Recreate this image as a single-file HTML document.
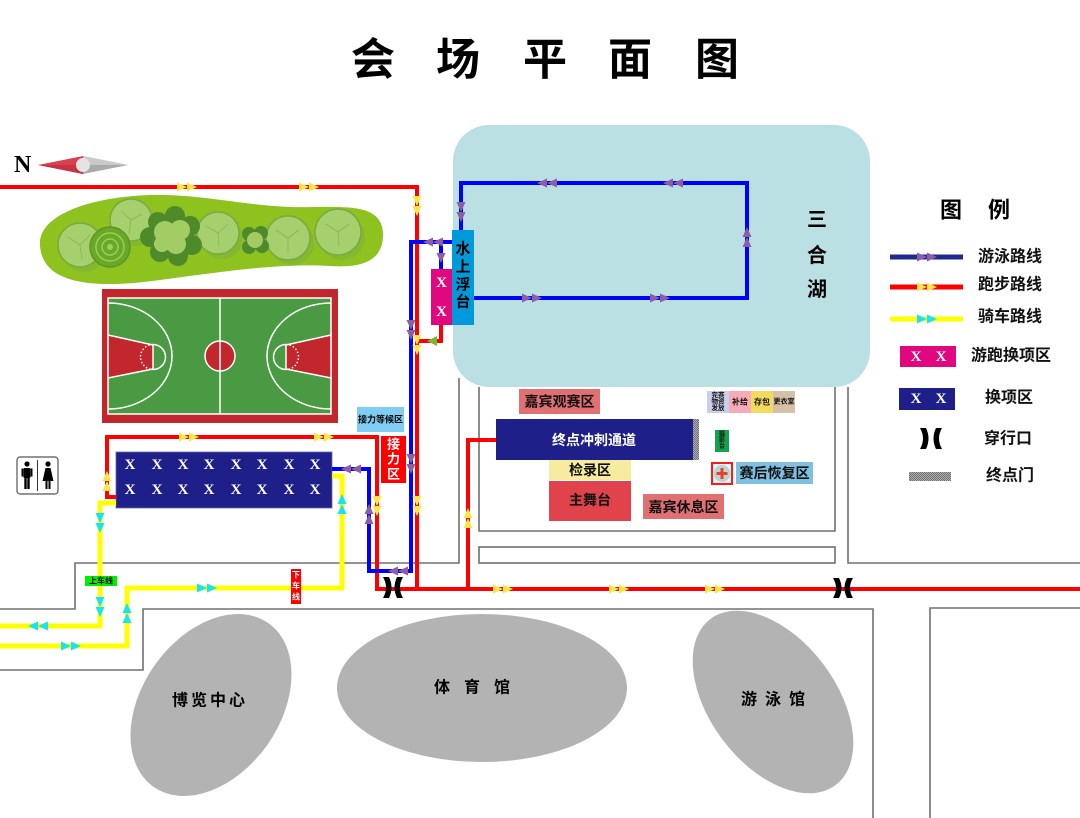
<!DOCTYPE html>
<html><head><meta charset="utf-8"><style>
html,body{margin:0;padding:0;background:#fff;}
svg{display:block;}
text{font-family:"Liberation Sans","Noto Sans CJK SC","WenQuanYi Zen Hei",sans-serif;font-weight:bold;}
.s{font-family:"Liberation Serif","Noto Serif CJK SC",serif;font-weight:bold;}
</style></head><body>
<svg width="1080" height="818" viewBox="0 0 1080 818" xmlns="http://www.w3.org/2000/svg">
<defs>
<g id="dbl"><polygon points="-11,-4.5 -1,0 -11,4.5"/><polygon points="-1,-4.5 9,0 -1,4.5"/></g>
<g id="sgl"><polygon points="-5,-4.5 5,0 -5,4.5"/></g>
<pattern id="chk" width="2" height="2" patternUnits="userSpaceOnUse"><rect width="2" height="2" fill="#b0b0b0"/><rect width="1" height="1" fill="#707070"/><rect x="1" y="1" width="1" height="1" fill="#707070"/></pattern>
</defs>

<!-- Title -->
<g font-size="44" font-weight="900" fill="#000" text-anchor="middle" dominant-baseline="central">
<text x="373" y="60">会</text><text x="458" y="60">场</text><text x="545" y="60">平</text><text x="630" y="60">面</text><text x="717" y="60">图</text>
</g>

<!-- Compass -->
<text class="s" x="14" y="172" font-size="24" fill="#000">N</text>
<polygon points="38,165 83,156 83,174" fill="#d8414f"/>
<polygon points="38,165 83,165 83,174" fill="#c43444"/>
<polygon points="83,156 128,165 83,174" fill="#a9a9a9"/>
<polygon points="83,156 128,165 83,165" fill="#c9c9c9"/>
<circle cx="83" cy="165" r="7" fill="#e4e4e4"/>

<!-- Lake -->
<rect x="453" y="125" width="417" height="262" rx="36" fill="#bbe0e3"/>
<g font-size="20" fill="#000" text-anchor="middle" dominant-baseline="central">
<text x="817" y="220">三</text><text x="817" y="256">合</text><text x="817" y="290">湖</text>
</g>

<!-- Gray road lines -->
<g stroke="#707070" stroke-width="1.6" fill="none">
<polyline points="0,609 75,609 75,563 459,563 459,378"/>
<polyline points="479,387 479,531 835,531 835,387"/>
<rect x="479" y="547" width="356" height="16"/>
<polyline points="848,387 848,563 1080,563"/>
<polyline points="0,670 143,670 143,609 873,609 873,818"/>
<polyline points="930,818 930,608 1080,608"/>
</g>

<!-- Trees area -->
<path d="M40,245 C38,215 90,197 150,195 C200,194 240,205 290,207 C340,208 383,200 383,235 C383,262 360,268 330,266 C280,263 220,272 160,280 C110,287 42,290 40,245 Z" fill="#8dc21f"/>
<g fill="#7fb23a" opacity="0.6">
<circle cx="84" cy="250" r="22"/><circle cx="135" cy="225" r="21"/><circle cx="222" cy="238" r="21"/><circle cx="292" cy="243" r="22"/><circle cx="342" cy="237" r="23"/>
</g>
<g stroke="#7aa944" stroke-width="1.5">
<circle cx="80" cy="245" r="22" fill="#a6d06d"/>
<circle cx="131" cy="220" r="21" fill="#a6d06d"/>
<circle cx="218" cy="233" r="21" fill="#a6d06d"/>
<circle cx="288" cy="238" r="22" fill="#a6d06d"/>
<circle cx="338" cy="232" r="23" fill="#a6d06d"/>
</g>
<g stroke="#86b553" stroke-width="0.8" fill="none">
<path d="M80,245 l-12,-8 M80,245 l10,-10 M80,245 l2,14 M131,220 l-10,-9 M131,220 l11,-6 M131,220 l-2,13 M218,233 l-12,-7 M218,233 l10,-9 M218,233 l1,13 M288,238 l-12,-8 M288,238 l11,-8 M288,238 l0,14 M338,232 l-12,-8 M338,232 l11,-8 M338,232 l1,14"/>
</g>
<circle cx="110" cy="247" r="20" fill="#6aa82a" stroke="#5d9524" stroke-width="1.5"/>
<circle cx="110" cy="247" r="14" fill="none" stroke="#9bd052" stroke-width="1.5"/>
<circle cx="110" cy="247" r="8" fill="none" stroke="#9bd052" stroke-width="1.5"/>
<circle cx="110" cy="247" r="3" fill="#9bd052"/>
<!-- bush 1 -->
<g fill="#4f8a2a">
<circle cx="158" cy="222" r="10"/><circle cx="175" cy="216" r="10"/><circle cx="190" cy="226" r="10"/><circle cx="192" cy="245" r="10"/><circle cx="178" cy="256" r="10"/><circle cx="160" cy="252" r="10"/><circle cx="150" cy="237" r="10"/>
</g>
<g fill="#a3cd64">
<circle cx="165" cy="232" r="11"/><circle cx="180" cy="230" r="10"/><circle cx="176" cy="244" r="10"/><circle cx="162" cy="244" r="8"/>
</g>
<!-- bush 2 -->
<g fill="#4f8a2a">
<circle cx="249" cy="234" r="7"/><circle cx="261" cy="233" r="7"/><circle cx="262" cy="246" r="7"/><circle cx="249" cy="247" r="7"/>
</g>
<g fill="#a3cd64"><circle cx="255" cy="240" r="8"/></g>

<!-- Basketball court -->
<rect x="102" y="289" width="236" height="134" fill="#c1272d"/>
<rect x="108" y="298" width="223" height="116" fill="#4a9a44" stroke="#fff" stroke-width="1.5"/>
<g stroke="#fff" stroke-width="1.5">
<line x1="220" y1="298" x2="220" y2="414"/>
<circle cx="220" cy="356" r="15" fill="#c1272d"/>
<line x1="220" y1="341" x2="220" y2="371"/>
<polygon points="108,335 153,345 153,369 108,378" fill="#c1272d"/>
<polygon points="331,335 286,345 286,369 331,378" fill="#c1272d"/>
<path d="M153,344.5 A12.5,12.5 0 0 1 153,369.5" fill="none"/>
<path d="M286,344.5 A12.5,12.5 0 0 0 286,369.5" fill="none"/>
<path d="M153,344.5 A12.5,12.5 0 0 0 153,369.5" fill="none" stroke-dasharray="1.5,2"/>
<path d="M286,344.5 A12.5,12.5 0 0 1 286,369.5" fill="none" stroke-dasharray="1.5,2"/>
<path d="M108,303 A64,53 0 0 1 108,409" fill="none"/>
<path d="M331,303 A64,53 0 0 0 331,409" fill="none"/>
</g>

<!-- Toilet icon -->
<rect x="17" y="457" width="41" height="37" rx="3" fill="#fff" stroke="#555" stroke-width="1.2"/>
<line x1="37.5" y1="460" x2="37.5" y2="491" stroke="#333" stroke-width="1"/>
<g fill="#000">
<circle cx="27" cy="464" r="2.6"/>
<rect x="23.5" y="468" width="7" height="10" rx="1"/>
<rect x="24.3" y="477" width="2.4" height="12"/><rect x="27.3" y="477" width="2.4" height="12"/>
<rect x="21.5" y="468.5" width="1.8" height="8"/><rect x="30.7" y="468.5" width="1.8" height="8"/>
<circle cx="48" cy="464" r="2.6"/>
<polygon points="45.5,468 50.5,468 53.5,481 42.5,481"/>
<rect x="45.5" y="480" width="2" height="9"/><rect x="48.5" y="480" width="2" height="9"/>
</g>

<!-- Transition zone -->
<rect x="116" y="452" width="216" height="56" fill="#1e1f88" stroke="#6a6ab0" stroke-width="0.8"/>
<g class="s" font-size="15" fill="#fff" text-anchor="middle" dominant-baseline="central">
<text class="s" x="130" y="465">X</text><text class="s" x="157" y="465">X</text><text class="s" x="183" y="465">X</text><text class="s" x="209" y="465">X</text><text class="s" x="236" y="465">X</text><text class="s" x="262" y="465">X</text><text class="s" x="289" y="465">X</text><text class="s" x="315" y="465">X</text>
<text class="s" x="130" y="490">X</text><text class="s" x="157" y="490">X</text><text class="s" x="183" y="490">X</text><text class="s" x="209" y="490">X</text><text class="s" x="236" y="490">X</text><text class="s" x="262" y="490">X</text><text class="s" x="289" y="490">X</text><text class="s" x="315" y="490">X</text>
</g>

<!-- Yellow bike lines -->
<g stroke="#ffff00" stroke-width="5" fill="none">
<polyline points="332,476 342,476 342,588 127,588 127,646 0,646"/>
<polyline points="116,503 100,503 100,626 0,626"/>
</g>

<!-- Red running lines -->
<g stroke="#ff0000" stroke-width="4" fill="none">
<polyline points="0,187 417,187 417,588"/>
<polyline points="441,325 441,341 417,341"/>
<polyline points="116,497 107,497 107,437 377,437 377,589 1080,589"/>
<polyline points="468,589 468,440 497,440"/>
</g>

<!-- Blue swim lines -->
<g stroke="#0000ff" stroke-width="4" fill="none">
<polyline points="461,230 461,183 747,183 747,298 474,298"/>
<polyline points="452,242 411,242 411,571 369,571 369,469 332,469"/>
<polyline points="441,242 441,269"/>
</g>

<!-- Float, pink transition -->
<rect x="431" y="269" width="21" height="56" fill="#e0077f"/>
<g class="s" font-size="15" fill="#fff" text-anchor="middle" dominant-baseline="central">
<text class="s" x="441.5" y="283">X</text><text class="s" x="441.5" y="312">X</text>
</g>
<rect x="452" y="230" width="22" height="95" fill="#0099da"/>
<g font-size="15" fill="#000" text-anchor="middle" dominant-baseline="central">
<text x="463" y="249">水</text><text x="463" y="267">上</text><text x="463" y="285">浮</text><text x="463" y="302">台</text>
</g>
<polygon points="427,341 437,336 437,346" fill="#7cb82f"/>

<!-- Relay -->
<rect x="357" y="407" width="47" height="25" fill="#7fcdf2"/>
<text x="380.5" y="419.5" font-size="9" fill="#000" text-anchor="middle" dominant-baseline="central">接力等候区</text>
<rect x="381" y="436" width="25" height="47" fill="#ff0000"/>
<g font-size="13" fill="#fff" text-anchor="middle" dominant-baseline="central">
<text x="393.5" y="444">接</text><text x="393.5" y="459">力</text><text x="393.5" y="474">区</text>
</g>

<!-- bus labels -->
<rect x="85" y="576" width="32" height="10" fill="#00ee00"/>
<text x="101" y="581" font-size="8" fill="#000" text-anchor="middle" dominant-baseline="central">上车线</text>
<rect x="291" y="569" width="10" height="35" fill="#ff0000"/>
<g font-size="8" fill="#fff" text-anchor="middle" dominant-baseline="central">
<text x="296" y="575">下</text><text x="296" y="586">车</text><text x="296" y="597">线</text>
</g>

<!-- Crossing symbols -->
<g fill="#000">
<path d="M383,577 L389,577 Q394,587.5 389,598 L383,598 Q389,587.5 383,577 Z"/>
<path d="M403,577 L397,577 Q392,587.5 397,598 L403,598 Q397,587.5 403,577 Z"/>
<path d="M833,578 L839,578 Q844,588 839,598 L833,598 Q839,588 833,578 Z"/>
<path d="M853,578 L847,578 Q842,588 847,598 L853,598 Q847,588 853,578 Z"/>
</g>

<!-- Venue -->
<rect x="519" y="389" width="81" height="25" fill="#e07072"/>
<text x="559.5" y="401.5" font-size="14" fill="#111" text-anchor="middle" dominant-baseline="central">嘉宾观赛区</text>
<rect x="496" y="419" width="197" height="41" fill="#1e1f88"/>
<text x="594" y="440" font-size="14" fill="#fff" text-anchor="middle" dominant-baseline="central">终点冲刺通道</text>
<rect x="693" y="419" width="6" height="41" fill="url(#chk)"/>
<rect x="549" y="460" width="82" height="20" fill="#f7eba0"/>
<text x="590" y="470" font-size="14" fill="#111" text-anchor="middle" dominant-baseline="central">检录区</text>
<rect x="549" y="481" width="82" height="40" fill="#e0434c"/>
<text x="590" y="500" font-size="14" fill="#111" text-anchor="middle" dominant-baseline="central">主舞台</text>
<rect x="643" y="494" width="81" height="25" fill="#e07072"/>
<text x="683.5" y="507" font-size="14" fill="#111" text-anchor="middle" dominant-baseline="central">嘉宾休息区</text>
<rect x="707" y="391" width="22" height="22" fill="#cbcfec"/>
<g font-size="6.5" fill="#111" text-anchor="middle" dominant-baseline="central">
<text x="718" y="395.5">完赛</text><text x="718" y="402">物资</text><text x="718" y="408.5">发放</text>
</g>
<rect x="729" y="391" width="22" height="22" fill="#f6abb6"/>
<text x="740" y="402" font-size="8" fill="#111" text-anchor="middle" dominant-baseline="central">补给</text>
<rect x="751" y="391" width="22" height="22" fill="#f2da5c"/>
<text x="762" y="402" font-size="8" fill="#111" text-anchor="middle" dominant-baseline="central">存包</text>
<rect x="773" y="391" width="22" height="22" fill="#d4c1a6"/>
<text x="784" y="402" font-size="7" fill="#111" text-anchor="middle" dominant-baseline="central">更衣室</text>
<rect x="715" y="430" width="14" height="22" fill="#14a04e"/>
<g font-size="6" fill="#111" text-anchor="middle" dominant-baseline="central">
<text x="722" y="435">摄</text><text x="722" y="441">影</text><text x="722" y="447">台</text>
</g>
<rect x="711" y="462" width="22" height="23" fill="#ff1a1a"/>
<rect x="713" y="464" width="18" height="19" fill="#f4f4f4"/>
<circle cx="722" cy="473.5" r="8.5" fill="#bcd3d8"/>
<rect x="720.5" y="468" width="3" height="11" fill="#e8402a"/>
<rect x="716.5" y="472" width="11" height="3" fill="#e8402a"/>
<rect x="736" y="462" width="77" height="22" fill="#80bfe0"/>
<text x="774.5" y="473" font-size="14" fill="#111" text-anchor="middle" dominant-baseline="central">赛后恢复区</text>

<!-- Buildings -->
<g fill="#b3b3b3">
<ellipse cx="211" cy="705" rx="69" ry="100" transform="rotate(35 211 705)"/>
<ellipse cx="482" cy="688" rx="145" ry="74"/>
<ellipse cx="773" cy="702" rx="63" ry="104" transform="rotate(-37 773 702)"/>
</g>
<g font-size="16" fill="#000" text-anchor="middle" dominant-baseline="central">
<text x="210" y="701" letter-spacing="3">博览中心</text>
<text x="479" y="688" letter-spacing="14">体育馆</text>
<text x="777" y="700" letter-spacing="8">游泳馆</text>
</g>

<!-- Arrows: running (yellow) -->
<g fill="#fbe64a">
<use href="#dbl" transform="translate(188,187)"/>
<use href="#dbl" transform="translate(310,187)"/>
<use href="#dbl" transform="translate(417,207) rotate(90)"/>
<use href="#dbl" transform="translate(417,346) rotate(90)"/>
<use href="#dbl" transform="translate(417,507) rotate(90)"/>
<use href="#dbl" transform="translate(377,507) rotate(90)"/>
<use href="#dbl" transform="translate(107,480) rotate(-90)"/>
<use href="#dbl" transform="translate(190,437)"/>
<use href="#dbl" transform="translate(325,437)"/>
<use href="#dbl" transform="translate(504,589)"/>
<use href="#dbl" transform="translate(620,589)"/>
<use href="#dbl" transform="translate(716,589)"/>
<use href="#dbl" transform="translate(468,517) rotate(-90)"/>
</g>
<!-- Arrows: swim (purple) -->
<g fill="#8a5fa8">
<use href="#dbl" transform="translate(546,183) rotate(180)"/>
<use href="#dbl" transform="translate(672,183) rotate(180)"/>
<use href="#dbl" transform="translate(747,236) rotate(-90)"/>
<use href="#dbl" transform="translate(533,298)"/>
<use href="#dbl" transform="translate(661,298)"/>
<use href="#dbl" transform="translate(461,213) rotate(90)"/>
<use href="#dbl" transform="translate(432,242) rotate(180)"/>
<use href="#sgl" transform="translate(441,258) rotate(90)"/>
<use href="#dbl" transform="translate(411,331) rotate(90)"/>
<use href="#dbl" transform="translate(411,465) rotate(90)"/>
<use href="#dbl" transform="translate(397,571) rotate(180)"/>
<use href="#dbl" transform="translate(369,513) rotate(-90)"/>
<use href="#dbl" transform="translate(350,469) rotate(180)"/>
</g>
<!-- Arrows: bike (cyan) -->
<g fill="#19e3f2">
<use href="#dbl" transform="translate(342,503) rotate(-90)"/>
<use href="#dbl" transform="translate(208,588)"/>
<use href="#dbl" transform="translate(127,612) rotate(-90)"/>
<use href="#dbl" transform="translate(72,646)"/>
<use href="#dbl" transform="translate(100,524) rotate(90)"/>
<use href="#dbl" transform="translate(100,608) rotate(90)"/>
<use href="#dbl" transform="translate(37,626) rotate(180)"/>
</g>

<!-- Legend -->
<g font-size="22" fill="#000" dominant-baseline="central">
<text x="940" y="210">图</text><text x="988" y="210">例</text>
</g>
<line x1="890" y1="257" x2="963" y2="257" stroke="#1f2a8c" stroke-width="5"/>
<use href="#dbl" transform="translate(928,257)" fill="#8a5fa8"/>
<line x1="890" y1="287" x2="963" y2="287" stroke="#ff0000" stroke-width="5"/>
<use href="#dbl" transform="translate(928,287)" fill="#fbe64a"/>
<line x1="890" y1="319" x2="963" y2="319" stroke="#ffff00" stroke-width="5"/>
<use href="#dbl" transform="translate(928,319)" fill="#19e3f2"/>
<rect x="900" y="346" width="56" height="21" fill="#e0077f"/>
<g font-size="15" fill="#fff" text-anchor="middle" dominant-baseline="central">
<text class="s" x="916" y="357">X</text><text class="s" x="941" y="357">X</text>
</g>
<rect x="899" y="388" width="56" height="22" fill="#1e1f88"/>
<g font-size="15" fill="#fff" text-anchor="middle" dominant-baseline="central">
<text class="s" x="916" y="399">X</text><text class="s" x="941" y="399">X</text>
</g>
<g fill="#000">
<path d="M920,428 L926,428 Q931,438.5 926,449 L920,449 Q926,438.5 920,428 Z"/>
<path d="M942,428 L936,428 Q931,438.5 936,449 L942,449 Q936,438.5 942,428 Z"/>
</g>
<rect x="909" y="472" width="42" height="9" fill="url(#chk)"/>
<g font-size="16" fill="#111" dominant-baseline="central">
<text x="978" y="257">游泳路线</text>
<text x="978" y="285">跑步路线</text>
<text x="978" y="317">骑车路线</text>
<text x="971" y="356">游跑换项区</text>
<text x="985" y="398">换项区</text>
<text x="984" y="439">穿行口</text>
<text x="986" y="476">终点门</text>
</g>
</svg>
</body></html>
